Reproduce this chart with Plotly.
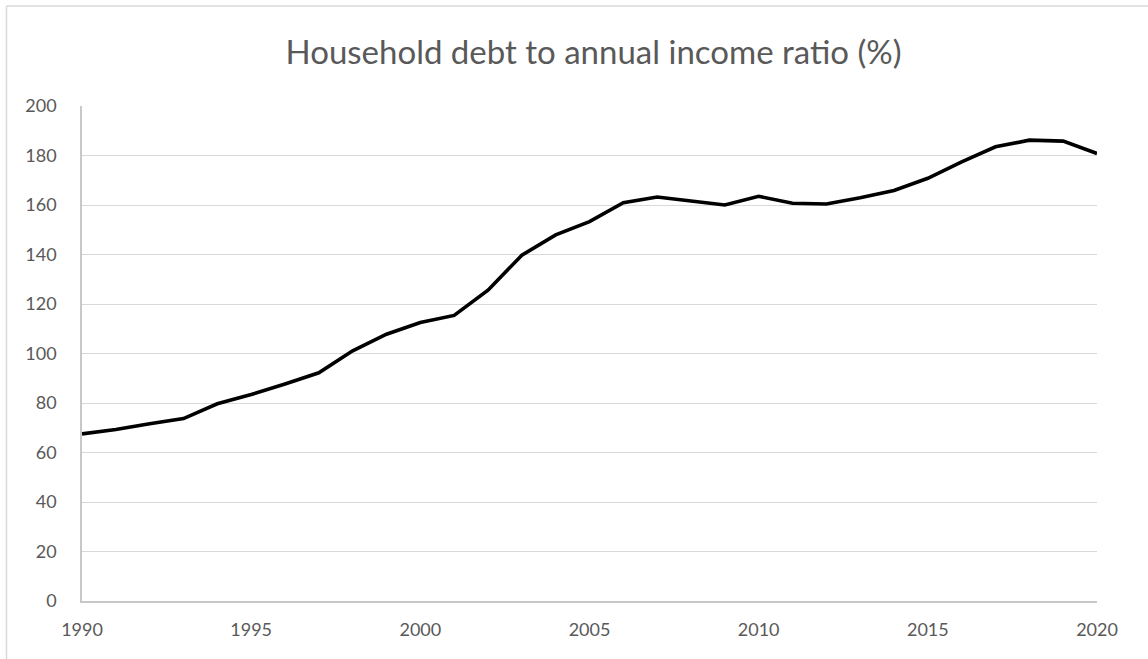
import plotly.graph_objects as go

# Household debt as a share of annual disposable income, 1990-2020
years = list(range(1990, 2021))
debt_ratio = [
    67.5, 69.3, 71.6, 73.7, 79.7, 83.4, 87.7, 92.2, 101.1, 107.8,
    112.5, 115.4, 125.6, 139.7, 147.9, 153.3, 160.9, 163.2, 161.6, 160.0,
    163.5, 160.7, 160.4, 162.9, 165.9, 170.8, 177.4, 183.5, 186.2, 185.8,
    180.8,
]
x_ticks = [1990, 1995, 2000, 2005, 2010, 2015, 2020]
y_ticks = [0, 20, 40, 60, 80, 100, 120, 140, 160, 180, 200]

TEXT = "#595959"
FONT = "Lato, Calibri, sans-serif"

fig = go.Figure(
    go.Scatter(
        x=years,
        y=debt_ratio,
        mode="lines",
        line=dict(color="#000000", width=3.6),
        hoverinfo="x+y",
    )
)

fig.update_layout(
    width=1148,
    height=659,
    margin=dict(l=82, r=51, t=106, b=58),
    paper_bgcolor="#ffffff",
    plot_bgcolor="#ffffff",
    showlegend=False,
    font=dict(family=FONT, color=TEXT, size=18),
    title=dict(
        text="Household debt to annual income ratio (%)",
        x=0.517,
        xanchor="center",
        y=0.921,
        yanchor="middle",
        font=dict(family=FONT, color=TEXT, size=33),
    ),
    xaxis=dict(
        range=[1990, 2020],
        tickvals=x_ticks,
        ticktext=[str(v) for v in x_ticks],
        showgrid=False,
        zeroline=False,
        showline=True,
        linecolor="#c8c8c8",
        linewidth=1.5,
        ticks="",
        ticklabelstandoff=12,
        tickfont=dict(size=18, color=TEXT),
    ),
    yaxis=dict(
        range=[0, 200],
        tickvals=y_ticks,
        showgrid=True,
        gridcolor="#d9d9d9",
        gridwidth=1.3,
        zeroline=False,
        showline=True,
        linecolor="#c8c8c8",
        linewidth=1.5,
        ticks="",
        ticklabelstandoff=20,
        tickfont=dict(size=18, color=TEXT),
    ),
    shapes=[
        # outer frame of the chart area (top and left edges)
        dict(type="line", xref="paper", yref="paper",
             x0=-0.0744, x1=1.06, y0=1.202, y1=1.202,
             line=dict(color="#d9d9d9", width=1.5)),
        dict(type="line", xref="paper", yref="paper",
             x0=-0.0744, x1=-0.0744, y0=1.202, y1=-0.12,
             line=dict(color="#d9d9d9", width=1.5)),
    ],
)

fig.write_html("out.html")
